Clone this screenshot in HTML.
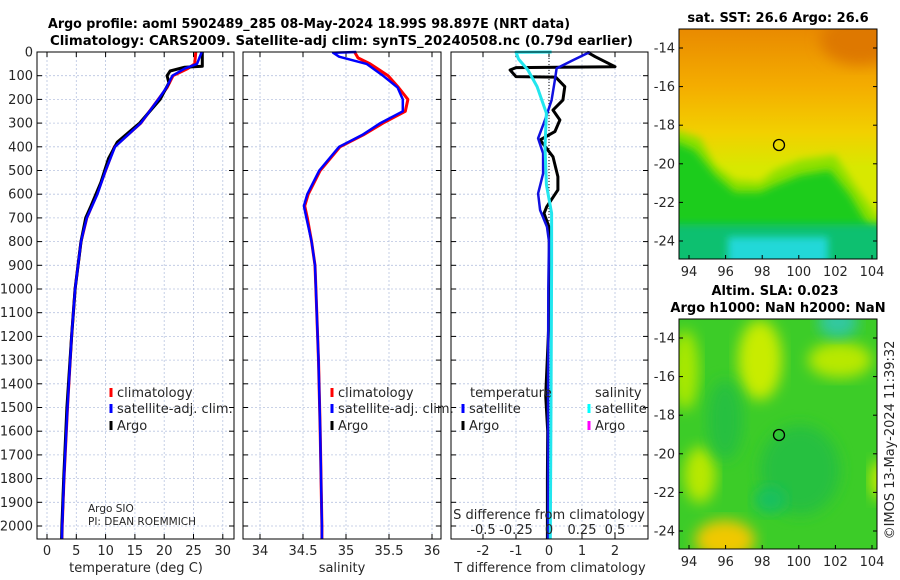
<!DOCTYPE html>
<html><head><meta charset="utf-8">
<style>
html,body{margin:0;padding:0;background:#fff;}
svg{display:block;font-family:"DejaVu Sans","Liberation Sans",sans-serif;}
.t{font-size:13px;fill:#262626}
.b{font-size:13px;font-weight:bold;fill:#000}
.g{stroke:#b8c4e0;stroke-width:0.8;stroke-dasharray:2,2;fill:none}
</style></head>
<body>
<svg id="chart" width="900" height="580" viewBox="0 0 900 580" xmlns="http://www.w3.org/2000/svg">
<defs>
<filter id="bl" x="-20%" y="-20%" width="140%" height="140%"><feGaussianBlur stdDeviation="7"/></filter>
<filter id="bl2" x="-20%" y="-20%" width="140%" height="140%"><feGaussianBlur stdDeviation="4"/></filter>
<clipPath id="c1"><rect x="679" y="29" width="198" height="230"/></clipPath>
<clipPath id="c2"><rect x="679" y="319" width="198" height="230"/></clipPath>
<linearGradient id="sstg" x1="0" y1="0" x2="0" y2="1">
<stop offset="0" stop-color="#e98a00"/><stop offset="0.25" stop-color="#f4ad00"/><stop offset="0.45" stop-color="#f2d000"/><stop offset="0.6" stop-color="#d8e800"/><stop offset="1" stop-color="#d8e800"/>
</linearGradient>
</defs>
<text class="b" x="48" y="28" textLength="522" lengthAdjust="spacingAndGlyphs">Argo profile: aoml 5902489_285 08-May-2024 18.99S 98.897E (NRT data)</text>
<text class="b" x="50" y="45" textLength="583" lengthAdjust="spacingAndGlyphs">Climatology: CARS2009. Satellite-adj clim: synTS_20240508.nc (0.79d earlier)</text>
<g id="panels"></g>

<!-- SST map -->
<g clip-path="url(#c1)">
<rect x="679" y="29" width="198" height="230" fill="url(#sstg)"/>
<ellipse cx="860" cy="40" rx="40" ry="25" fill="#de7800" filter="url(#bl)"/>
<polygon points="660,125 700,138 715,165 735,180 760,182 775,170 800,160 835,155 855,185 877,215 900,230 900,280 660,280" fill="#8ee000" filter="url(#bl2)"/>
<polygon points="660,135 695,150 715,175 735,192 760,192 775,185 800,175 830,170 850,195 868,225 900,240 900,280 660,280" fill="#1ccc1c" filter="url(#bl2)"/>
<rect x="660" y="224" width="240" height="60" fill="#10c070" filter="url(#bl2)"/>
<rect x="728" y="237" width="100" height="40" fill="#20d8d8" filter="url(#bl2)"/>
</g>
<rect x="679" y="29" width="198" height="230" fill="none" stroke="#000" stroke-width="1"/>
<circle cx="779" cy="145" r="5.5" fill="none" stroke="#000" stroke-width="1.3"/>
<text class="b" x="778" y="22" text-anchor="middle">sat. SST: 26.6 Argo: 26.6</text>

<!-- SLA map -->
<g clip-path="url(#c2)">
<rect x="660" y="300" width="240" height="270" fill="#3ccc28"/>
<ellipse cx="760" cy="360" rx="22" ry="40" fill="#c8ec00" filter="url(#bl)"/>
<ellipse cx="840" cy="360" rx="32" ry="18" fill="#b8e800" filter="url(#bl)"/>
<ellipse cx="685" cy="370" rx="14" ry="40" fill="#a8e800" filter="url(#bl)"/>
<ellipse cx="700" cy="475" rx="16" ry="28" fill="#b8e800" filter="url(#bl)"/>
<ellipse cx="725" cy="540" rx="30" ry="20" fill="#f0c800" filter="url(#bl)"/>
<ellipse cx="838" cy="322" rx="20" ry="16" fill="#30c8a0" filter="url(#bl)"/>
<ellipse cx="880" cy="480" rx="10" ry="20" fill="#c8ec00" filter="url(#bl)"/>
<ellipse cx="725" cy="420" rx="18" ry="40" fill="#28c040" filter="url(#bl)"/>
<ellipse cx="800" cy="470" rx="40" ry="45" fill="#28c040" filter="url(#bl)"/>
<ellipse cx="770" cy="500" rx="16" ry="14" fill="#18c060" filter="url(#bl)"/>
</g>
<rect x="679" y="319" width="198" height="230" fill="none" stroke="#000" stroke-width="1"/>
<circle cx="779" cy="435" r="5.5" fill="none" stroke="#000" stroke-width="1.3"/>
<text class="b" x="775" y="295" text-anchor="middle">Altim. SLA: 0.023</text>
<text class="b" x="778" y="312" text-anchor="middle">Argo h1000: NaN h2000: NaN</text>
<text class="t" transform="translate(894,440) rotate(-90)" text-anchor="middle">©IMOS 13-May-2024 11:39:32</text>
<g id="maps"></g>
</svg>
<script>
const depthTicks=[0,100,200,300,400,500,600,700,800,900,1000,1100,1200,1300,1400,1500,1600,1700,1800,1900,2000];
const tempTicks=[0,5,10,15,20,25,30];
const salTicks=[34,34.5,35,35.5,36];
const tdiffTicks=[-2,-1,0,1,2];
const sdiffTicks=[-0.5,-0.25,0,0.25,0.5];
const sdiffLabels=["-0.5","-0.25","0","0.25","0.5"];
const lonTicks=[94,96,98,100,102,104];
const latTicks=[-14,-16,-18,-20,-22,-24];

const climTDepth=[0,50,70,100,150,200,300,400,500,600,700,800,1000,1200,1500,1800,2000,2055];
const climTemp=[25.4,25.2,24.0,21.5,20.5,19.0,16.0,11.5,10.0,8.5,6.8,5.8,4.8,4.2,3.5,2.9,2.6,2.55];
const satTDepth=[0,50,70,100,150,200,300,400,500,600,700,800,1000,1200,1500,1800,2000,2055];
const satTemp=[26.4,25.6,23.5,21.4,20.4,19.0,16.0,11.6,10.0,8.6,6.8,5.8,4.8,4.2,3.5,2.9,2.6,2.55];
const argoTDepth=[0,60,64,80,100,130,200,300,380,450,550,650,700,800,1000,1200,1500,1800,2000,2055];
const argoTemp=[26.5,26.5,23.5,21.0,20.5,20.8,19.3,15.8,12.0,10.5,9.2,7.5,6.6,5.8,4.8,4.2,3.4,2.85,2.55,2.5];

const climSDepth=[0,25,50,100,150,200,250,300,350,400,500,600,650,700,800,900,1000,1300,1600,2000,2055];
const climSal=[35.10,35.14,35.28,35.49,35.61,35.72,35.69,35.43,35.20,34.93,34.70,34.56,34.52,34.55,34.60,34.64,34.65,34.68,34.70,34.72,34.72];
const satSDepth=[0,3,20,50,100,150,200,250,300,350,400,500,600,650,700,800,900,1000,1300,1600,2000,2055];
const satSal=[35.12,34.85,34.92,35.24,35.43,35.60,35.66,35.66,35.40,35.19,34.92,34.69,34.55,34.51,34.54,34.60,34.64,34.65,34.68,34.70,34.72,34.72];

const satTdDepth=[0,34,69,118,203,287,364,428,513,597,667,738,800,1000,1500,2055];
const satTdiff=[1.24,0.73,0.23,0.18,0.08,-0.12,-0.33,-0.18,-0.18,-0.33,-0.27,-0.06,0,-0.02,-0.03,-0.03];
const argoTdDepth=[0,20,62,66,76,104,106,146,203,245,287,336,371,442,526,582,653,681,738,1000,1200,1450,1600,1800,2055];
const argoTdiff=[1.15,1.4,2.0,-1.0,-1.18,-1.0,0.2,0.48,0.42,0.12,0.33,0.18,-0.27,0.12,0.27,0.27,-0.07,-0.15,0,0.03,-0.02,-0.1,-0.04,-0.05,-0.05];
const satSdDepth=[0,1,30,76,146,258,400,560,680,900,1500,2055];
const satSdiff=[0.02,-0.25,-0.23,-0.16,-0.09,-0.02,-0.03,-0.02,0.02,0.02,0.015,0.01];

const Y0=52,YS=0.237;
function yD(d){return Y0+d*YS;}
function xT(t){return 47+t*5.86;}
function xS(s){return 260+(s-34)*86;}
function xD(t){return 549+t*33;}
function xDS(s){return 549+s*132;}
function xLon(l){return 689+(l-94)*18.3;}
function yLat1(l){return 48+(-14-l)*19.3;}
function yLat2(l){return 338+(-14-l)*19.3;}

const NS="http://www.w3.org/2000/svg";
const G=document.getElementById('panels');
function el(tag,attrs,parent,text){const e=document.createElementNS(NS,tag);for(const k in attrs)e.setAttribute(k,attrs[k]);if(text!==undefined)e.textContent=text;(parent||G).appendChild(e);return e;}
function path(ds,vs,fx,color,w,name){
  let d='';for(let i=0;i<ds.length;i++){d+=(i?'L':'M')+fx(vs[i]).toFixed(1)+','+yD(ds[i]).toFixed(1);}
  const p=el('path',{d:d,fill:'none',stroke:color,'stroke-width':w,'stroke-linejoin':'round'});
  
  
}
const panels=[{x0:37,x1:234,name:'temperature-panel'},{x0:243,x1:441,name:'salinity-panel'},{x0:451,x1:648,name:'difference-panel'}];
const PB=539;
panels.forEach((p,pi)=>{
  const g=el('g',{});
  
  
  depthTicks.forEach(d=>{el('line',{x1:p.x0,x2:p.x1,y1:yD(d),y2:yD(d),class:'g'},g);
    el('line',{x1:p.x0,x2:p.x0+5,y1:yD(d),y2:yD(d),stroke:'#000'},g);
    el('line',{x1:p.x1-5,x2:p.x1,y1:yD(d),y2:yD(d),stroke:'#000'},g);});
  let xs,fx,labs;
  if(pi==0){xs=tempTicks;fx=xT;labs=tempTicks.map(String);}
  else if(pi==1){xs=salTicks;fx=xS;labs=salTicks.map(String);}
  else {xs=tdiffTicks;fx=xD;labs=tdiffTicks.map(String);}
  xs.forEach((v,i)=>{const x=fx(v);
    el('line',{x1:x,x2:x,y1:Y0,y2:PB,class:'g'},g);
    el('line',{x1:x,x2:x,y1:PB-5,y2:PB,stroke:'#000'},g);
    el('line',{x1:x,x2:x,y1:Y0,y2:Y0+5,stroke:'#000'},g);
    const t=el('text',{x:x,y:555,class:'t','text-anchor':'middle'},g,labs[i]);
    
    
  });
});
depthTicks.forEach(d=>{const t=el('text',{x:33,y:yD(d)+4.5,class:'t','text-anchor':'end'},G,String(d));
  
  });
el('line',{x1:549,x2:549,y1:Y0,y2:PB,stroke:'#000','stroke-width':1,'stroke-dasharray':'1,2'});

path(climTDepth,climTemp,xT,'#ff0000',3,'climatology-temperature-line');
path(argoTDepth,argoTemp,xT,'#000000',3,'argo-temperature-line');
path(satTDepth,satTemp,xT,'#0000ff',2.5,'satellite-temperature-line');
path(climSDepth,climSal,xS,'#ff0000',3,'climatology-salinity-line');
path(satSDepth,satSal,xS,'#0000ff',2.5,'satellite-salinity-line');
path(argoTdDepth,argoTdiff,xD,'#000000',3,'argo-temperature-difference-line');
path(satTdDepth,satTdiff,xD,'#1010e0',2.5,'satellite-temperature-difference-line');
path(satSdDepth,satSdiff,xDS,'#22e6ee',3,'satellite-salinity-difference-line');

panels.forEach(p=>{const r=el('rect',{x:p.x0,y:Y0,width:p.x1-p.x0,height:PB-Y0,fill:'none',stroke:'#000','stroke-width':1});
  
  });

sdiffTicks.forEach((v,i)=>{const t=el('text',{x:xDS(v),y:534,class:'t','text-anchor':'middle'},G,sdiffLabels[i]);
  
  });
function txt(x,y,s,name,anchor,cls){const t=el('text',{x:x,y:y,class:cls||'t','text-anchor':anchor||'start'},G,s);
  
  return t;}
txt(549,519,'S difference from climatology','s-difference-axis-title','middle');
txt(136,572,'temperature (deg C)','temperature-axis-title','middle');
txt(342,572,'salinity','salinity-axis-title','middle');
txt(550,572,'T difference from climatology','t-difference-axis-title','middle');
const s1=txt(88,512,'Argo SIO','argo-institution'); s1.setAttribute('style','font-size:10.5px');
const s2=txt(88,525,'PI: DEAN ROEMMICH','argo-pi'); s2.setAttribute('style','font-size:10.5px');

function leg(x,y,color,label,name){
  const m=el('rect',{x:x-1.5,y:y-9,width:3,height:9,fill:color});
  
  
  txt(x+6,y,label,name);
}
leg(111,397,'#ff0000','climatology','legend-climatology');
leg(111,413,'#0000ff','satellite-adj. clim.','legend-satellite-adj');
leg(111,430,'#000000','Argo','legend-argo');
leg(332,397,'#ff0000','climatology','legend-climatology-s');
leg(332,413,'#0000ff','satellite-adj. clim.','legend-satellite-adj-s');
leg(332,430,'#000000','Argo','legend-argo-s');
txt(470,397,'temperature','legend-temperature-header');
txt(595,397,'salinity','legend-salinity-header');
leg(463,413,'#0000ff','satellite','legend-t-satellite');
leg(463,430,'#000000','Argo','legend-t-argo');
leg(589,413,'#00ffff','satellite','legend-s-satellite');
leg(589,430,'#ff00ff','Argo','legend-s-argo');

const M=document.getElementById('maps');
[[yLat1,29,259],[yLat2,319,549]].forEach(([fy,top,bot])=>{
  latTicks.forEach(l=>{const y=fy(l);
    el('line',{x1:679,x2:683,y1:y,y2:y,stroke:'#000'},M);
    el('line',{x1:873,x2:877,y1:y,y2:y,stroke:'#000'},M);
    const t=el('text',{x:675,y:y+4.5,class:'t','text-anchor':'end'},M,String(l));
    
    });
  lonTicks.forEach(l=>{const x=xLon(l);
    el('line',{x1:x,x2:x,y1:bot-4,y2:bot,stroke:'#000'},M);
    const t=el('text',{x:x,y:bot+17,class:'t','text-anchor':'middle'},M,String(l));
    
    });
});
</script>
</body></html>
